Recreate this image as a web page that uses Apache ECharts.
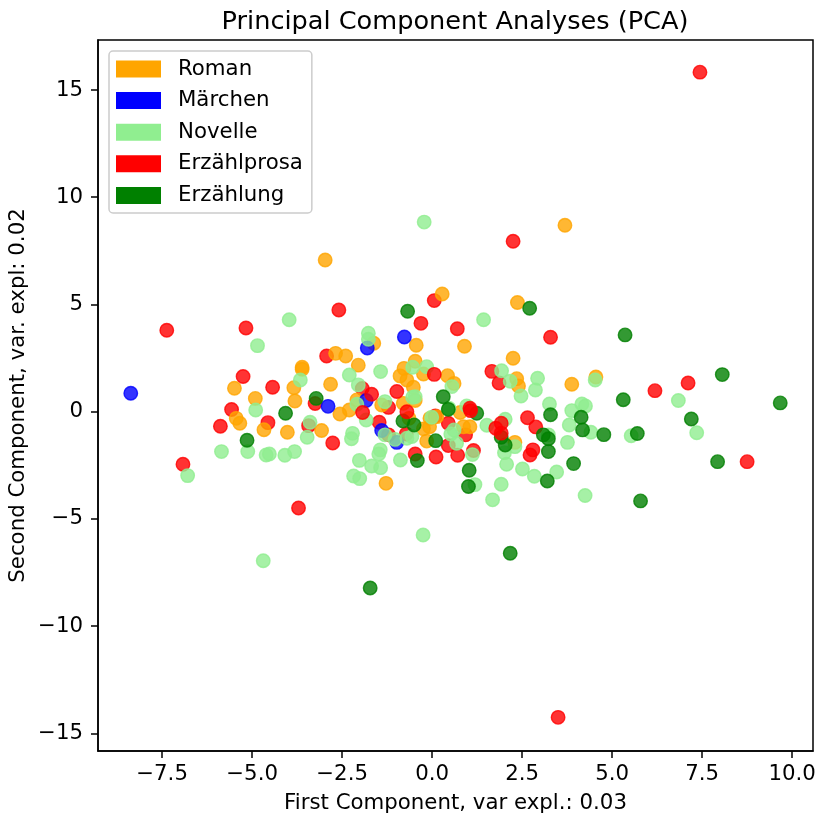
<!DOCTYPE html>
<html>
<head>
<meta charset="utf-8">
<style>html,body{margin:0;padding:0;background:#fff}#c{width:816px;height:817px}</style>
<script src="https://cdn.jsdelivr.net/npm/echarts@6/dist/echarts.min.js"></script>
</head>
<body>
<div id="c"></div>
<script>
const chartTitle = 'Principal Component Analyses (PCA)';
const xName = 'First Component, var expl.: 0.03';
const yName = 'Second Component, var. expl: 0.02';
const xTicks = [-7.5,-5,-2.5,0,2.5,5,7.5,10];
const yTicks = [-15,-10,-5,0,5,10,15];

const roman = [[-5.49,1.09],[-4.91,0.62],[-5.44,-0.31],[-5.34,-0.54],[-4.67,-0.84],[-4.02,-0.96],[-3.07,-0.88],[-3.84,1.12],[-3.81,0.50],[-3.61,2.07],[-3.61,1.98],[-2.82,1.28],[-2.68,2.72],[-2.40,2.60],[-2.05,2.17],[-1.62,3.19],[-0.44,3.10],[-0.47,2.35],[-0.78,2.02],[-0.24,1.76],[-0.89,1.67],[-0.70,1.48],[-0.52,1.14],[-0.80,0.39],[-0.47,0.52],[-1.40,0.31],[-2.56,-0.11],[-2.30,0.08],[-2.09,0.55],[0.28,5.49],[0.43,1.68],[-0.64,-0.31],[-0.24,-0.80],[-0.07,-0.70],[-0.15,-1.37],[-1.28,-3.34],[0.13,-0.23],[-0.06,-0.31],[2.37,5.09],[0.90,3.05],[2.25,2.49],[0.61,1.32],[2.35,1.54],[2.40,1.20],[3.88,1.28],[4.55,1.62],[0.78,-0.04],[0.87,-0.70],[1.05,-0.70],[2.30,-1.43],[-2.97,7.07],[3.69,8.69]];
const maerchen = [[-8.37,0.86],[-0.77,3.48],[-1.80,2.97],[-2.89,0.25],[-1.83,0.52],[-1.40,-0.88],[-0.98,-1.43]];
const novelle = [[-3.97,4.29],[-4.85,3.08],[-1.77,3.66],[-1.77,3.38],[-1.43,1.87],[-2.30,1.71],[-3.66,1.48],[-2.05,1.25],[-0.54,2.07],[-0.15,2.10],[-0.47,0.70],[-0.54,0.67],[-1.31,0.47],[-2.09,0.35],[-4.90,0.08],[-3.39,-0.49],[-1.83,-0.39],[-3.47,-1.19],[-2.21,-1.01],[-2.24,-1.26],[-5.85,-1.86],[-5.12,-1.86],[-4.61,-2.02],[-4.52,-1.97],[-4.09,-2.03],[-3.82,-1.86],[-6.79,-2.98],[-1.44,-1.78],[-1.48,-1.97],[-2.02,-2.27],[-1.68,-2.53],[-1.43,-2.61],[-0.88,-2.25],[-2.18,-3.00],[-2.01,-3.12],[-1.31,-1.08],[-1.03,-1.29],[-0.70,-1.24],[-0.56,-1.16],[-0.01,-0.26],[1.43,4.29],[1.93,1.91],[2.17,1.42],[2.93,1.56],[2.87,1.01],[2.47,0.73],[4.53,1.48],[6.84,0.52],[7.35,-0.98],[3.26,0.36],[3.88,0.05],[4.16,0.36],[4.26,0.27],[3.81,-0.62],[4.41,-0.96],[3.76,-1.43],[5.53,-1.12],[3.23,-1.08],[2.03,-0.35],[1.52,-0.63],[0.96,0.27],[0.55,1.17],[0.47,0.16],[0.61,-0.85],[0.52,-1.04],[0.68,-1.47],[1.12,-2.00],[2.01,-1.91],[2.30,-1.63],[2.07,-2.45],[2.51,-2.67],[2.84,-3.01],[3.46,-2.81],[1.19,-3.40],[1.92,-3.38],[1.68,-4.11],[4.25,-3.91],[-0.22,8.84],[-0.25,-5.75],[-4.69,-6.95]];
const erzaehlprosa = [[-7.37,3.80],[-5.17,3.90],[-2.59,4.74],[-2.93,2.60],[-5.25,1.64],[-4.43,1.14],[-5.57,0.10],[-5.88,-0.68],[-6.92,-2.45],[-4.56,-0.51],[-3.43,-0.65],[-3.25,0.38],[-2.76,-1.46],[-1.94,1.08],[-1.47,-0.49],[-3.71,-4.49],[0.06,5.18],[-0.31,4.12],[-0.72,-1.04],[-0.47,-1.97],[0.11,-2.11],[0.09,-0.20],[0.45,-0.54],[0.45,-1.58],[-1.21,0.20],[-1.21,-1.08],[0.70,3.87],[3.29,3.47],[1.66,1.88],[1.86,1.34],[6.19,0.98],[7.11,1.34],[8.75,-2.33],[2.65,-0.28],[2.88,-0.71],[0.93,-1.08],[0.71,-2.03],[1.15,-1.81],[2.80,-1.78],[2.72,-2.02],[7.44,15.83],[2.25,7.95],[3.50,-14.25]];
const erzaehlprosaUpper = [[-1.93,-0.04],[-1.68,0.81],[-0.98,0.94],[0.06,1.74],[-0.70,0.00],[1.05,0.16],[1.07,0.05],[1.77,-0.77],[1.92,-0.54],[1.92,-1.00]];
const erzaehlung = [[-3.22,0.62],[-4.07,-0.07],[-5.14,-1.33],[-0.68,4.68],[-0.81,-0.43],[-0.50,-0.62],[-0.41,-2.28],[0.10,-1.35],[0.31,0.70],[2.71,4.82],[5.36,3.58],[5.31,0.56],[8.06,1.73],[9.67,0.41],[7.20,-0.34],[5.70,-1.02],[7.93,-2.33],[5.79,-4.16],[4.77,-1.07],[3.93,-2.42],[3.20,-3.23],[4.14,-0.26],[4.18,-0.85],[3.29,-0.14],[3.09,-1.08],[3.23,-1.26],[3.23,-1.86],[2.03,-1.55],[1.92,-1.19],[1.24,-0.07],[1.03,-2.73],[1.01,-3.49],[0.45,0.11],[2.17,-6.60],[-1.72,-8.22]];

const groups = [
  {name:'Erzählprosa', color:'#ff0000', rgb:'255,0,0', data:erzaehlprosa, z:2},
  {name:'Roman', color:'#ffa500', rgb:'255,165,0', data:roman, z:3},
  {name:'Märchen', color:'#0000ff', rgb:'0,0,255', data:maerchen, z:4},
  {name:'Novelle', color:'#90ee90', rgb:'144,238,144', data:novelle, z:5},
  {name:'Erzählung', color:'#008000', rgb:'0,128,0', data:erzaehlung, z:6},
  {name:'Erzählprosa', color:'#ff0000', rgb:'255,0,0', data:erzaehlprosaUpper, z:7}
];
const legendOrder = ['Roman','Märchen','Novelle','Erzählprosa','Erzählung'];
const font = '"DejaVu Sans"';
const fmt = (v, d) => { const s = Math.abs(v).toFixed(d); return (v < 0 ? '\u2212' : '') + s; };

const chart = echarts.init(document.getElementById('c'), null, {renderer:'canvas'});
chart.setOption({
  animation:false,
  backgroundColor:'#fff',
  title:{text:chartTitle, left:450, top:4, textAlign:'center',
    textStyle:{fontFamily:font, fontWeight:'normal', fontSize:25.6, color:'#000'}},
  legend:{
    orient:'vertical', left:109, top:51, padding:[7.5,9,7,7],
    itemWidth:45, itemHeight:17, itemGap:10.6,
    icon:'rect', align:'left', z:20,
    backgroundColor:'rgba(255,255,255,0.8)', borderColor:'#ccc', borderWidth:1.5, borderRadius:4,
    textStyle:{fontFamily:font, fontSize:21.3, lineHeight:17, color:'#000', padding:[0,0,0,12]},
    data:legendOrder.map(n => { const g = groups.find(x => x.name === n);
      return {name:g.name, itemStyle:{color:g.color, borderWidth:0, opacity:1}}; })
  },
  grid:{left:98, right:3, top:40, bottom:66, show:true, outerBoundsMode:'none', borderColor:'#000', borderWidth:1.5, backgroundColor:'transparent', z:10},
  xAxis:{type:'value', min:-9.28, max:10.58, name:xName, nameLocation:'middle', nameGap:42,
    nameTextStyle:{fontFamily:font, fontSize:21.3, color:'#000'},
    splitLine:{show:false},
    axisLine:{show:true, onZero:false, lineStyle:{color:'#000', width:1.5}},
    axisTick:{show:true, length:7, lineStyle:{color:'#000', width:1.5}, customValues:xTicks},
    axisLabel:{fontFamily:font, fontSize:21.3, color:'#000', margin:13, customValues:xTicks, formatter:v => fmt(v,1), hideOverlap:false}
  },
  yAxis:{type:'value', min:-15.82, max:17.33, name:yName, nameLocation:'middle', nameGap:69.5, nameMoveOverlap:false,
    nameTextStyle:{fontFamily:font, fontSize:21.3, color:'#000'},
    splitLine:{show:false},
    axisLine:{show:true, onZero:false, lineStyle:{color:'#000', width:1.5}},
    axisTick:{show:true, length:7, lineStyle:{color:'#000', width:1.5}, customValues:yTicks},
    axisLabel:{fontFamily:font, fontSize:21.3, color:'#000', margin:15, customValues:yTicks, formatter:v => fmt(v,0), hideOverlap:false}
  },
  series:groups.map(g => ({
    name:g.name, type:'scatter', data:g.data, z:g.z,
    symbol:'circle', symbolSize:13.5,
    itemStyle:{color:`rgba(${g.rgb},0.8)`, borderColor:`rgba(${g.rgb},0.8)`, borderWidth:1.4, opacity:1},
    emphasis:{disabled:true}, silent:true
  }))
});
</script>
</body>
</html>
